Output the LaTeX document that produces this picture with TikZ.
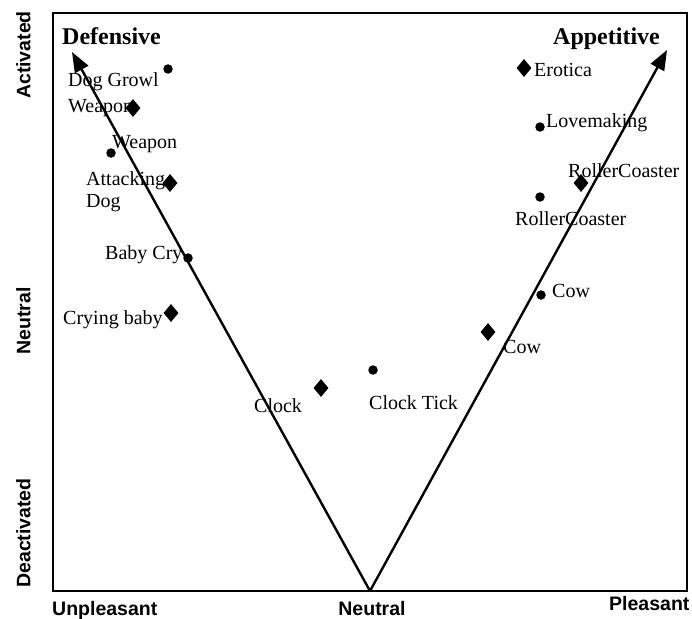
\documentclass[tikz,border=0pt]{standalone}
\usepackage{fontspec}
\setmainfont{Liberation Serif}
\setsansfont{Liberation Sans}
\usetikzlibrary{arrows.meta,shapes.geometric}
\begin{document}
\begin{tikzpicture}[x=1pt,y=-1pt,
  lab/.style={inner sep=0pt,anchor=base west,font=\fontsize{20}{24}\selectfont},
  head/.style={inner sep=0pt,anchor=base west,font=\fontsize{24}{28}\selectfont\bfseries},
  axislab/.style={inner sep=0pt,font=\fontsize{19.5}{23}\selectfont\sffamily\bfseries},
  dotmark/.style={circle,fill=black,inner sep=0pt,minimum size=9.5pt},
  diamark/.style={diamond,fill=black,inner sep=0pt,minimum width=15pt,minimum height=18pt},
  axisline/.style={line width=2.5pt},
  vline/.style={line width=2.4pt,-{Triangle[length=20pt,width=15pt]}}]
\useasboundingbox (0,0) rectangle (692,618);
% frame of the affect space
\draw[axisline] (53,13) rectangle (687,591);
% the V of defensive / appetitive motivation
\coordinate (vbase) at (370,591);
\coordinate (deftip) at (72,52);
\coordinate (apptip) at (667,50);
\draw[vline] (vbase) -- (deftip);
\draw[vline] (vbase) -- (apptip);
% headings
\node[head] (defh) at (62,45) {Defensive};
\node[head] (apph) at (553,45) {Appetitive};
% axis labels
\node[axislab,rotate=90] (act) at (23.5,55) {Activated};
\node[axislab,rotate=90] (neuy) at (23.5,321) {Neutral};
\node[axislab,rotate=90] (deact) at (23.5,533) {Deactivated};
\node[axislab,anchor=base west] (unpl) at (52,615) {Unpleasant};
\node[axislab,anchor=base] (neux) at (372,615) {Neutral};
\node[axislab,anchor=base west] (pleas) at (609,610) {Pleasant};
% sound stimuli (dots)
\node[dotmark] (dgrowl) at (168,69) {};
\node[dotmark] (dweapon) at (111,153) {};
\node[dotmark] (dbaby) at (188,258) {};
\node[dotmark] (dclock) at (373,370) {};
\node[dotmark] (dcow) at (541,295) {};
\node[dotmark] (droller) at (540,197) {};
\node[dotmark] (dlove) at (540,127) {};
% picture stimuli (diamonds)
\node[diamark] (pweapon) at (133,108) {};
\node[diamark] (pdog) at (170,183) {};
\node[diamark] (pbaby) at (171,313) {};
\node[diamark] (pclock) at (321,388) {};
\node[diamark] (pcow) at (488,332) {};
\node[diamark] (proller) at (581,183) {};
\node[diamark] (perotica) at (524,68) {};
% stimulus labels
\node[lab] (tgrowl) at (68,86) {Dog Growl};
\node[lab] (tpweapon) at (68,112) {Weapon};
\node[lab] (tdweapon) at (112,148) {Weapon};
\node[lab] (tattack) at (86,185) {Attacking};
\node[lab] (tdog) at (86,207) {Dog};
\node[lab] (tdbaby) at (105,259) {Baby Cry};
\node[lab] (tpbaby) at (63,324) {Crying baby};
\node[lab] (tpclock) at (254,412) {Clock};
\node[lab] (tdclock) at (369,409) {Clock Tick};
\node[lab] (tpcow) at (503,353) {Cow};
\node[lab] (tdcow) at (552,297) {Cow};
\node[lab] (tproller) at (568,177) {RollerCoaster};
\node[lab] (tdroller) at (515,225) {RollerCoaster};
\node[lab] (tlove) at (546,127) {Lovemaking};
\node[lab] (terotica) at (534,76) {Erotica};
\end{tikzpicture}
\end{document}
